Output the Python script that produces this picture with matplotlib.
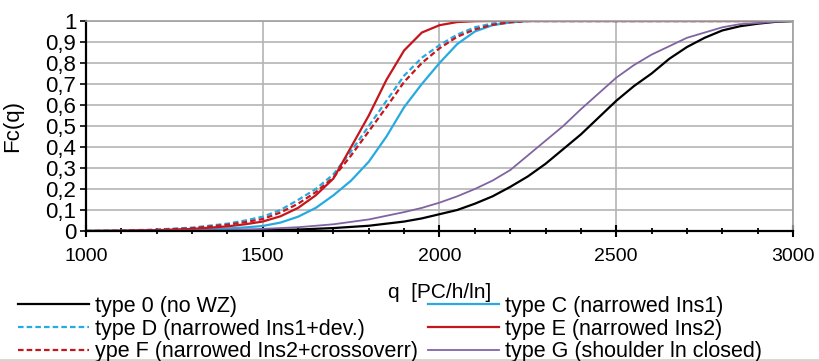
import matplotlib
matplotlib.use('Agg')
import matplotlib.pyplot as plt
from matplotlib.lines import Line2D
from matplotlib.ticker import MultipleLocator

plt.rcParams['font.family'] = ['Liberation Sans', 'DejaVu Sans']

# flow values
q_fast = [1000, 1100, 1200, 1300, 1400, 1450, 1500, 1550, 1600, 1650, 1700, 1750,
          1800, 1850, 1900, 1950, 2000, 2050, 2100, 2150, 2200, 2250, 2300, 3000]
q_slow = [1000, 1200, 1400, 1500, 1600, 1700, 1800, 1900, 1950, 2000, 2050, 2100,
          2150, 2200, 2250, 2300, 2350, 2400, 2450, 2500, 2550, 2600, 2650, 2700,
          2750, 2800, 2850, 2900, 2950, 3000]

type_c = [0, 0.001, 0.002, 0.005, 0.012, 0.017, 0.024, 0.04, 0.068, 0.11, 0.17, 0.24,
          0.33, 0.45, 0.59, 0.70, 0.80, 0.89, 0.95, 0.98, 0.993, 1, 1, 1]
type_d = [0, 0.002, 0.007, 0.016, 0.035, 0.05, 0.068, 0.10, 0.148, 0.20, 0.27, 0.38,
          0.50, 0.62, 0.74, 0.825, 0.885, 0.935, 0.97, 0.988, 0.997, 1, 1, 1]
type_e = [0, 0.001, 0.004, 0.01, 0.022, 0.032, 0.045, 0.07, 0.11, 0.17, 0.25, 0.40,
          0.55, 0.72, 0.86, 0.945, 0.98, 0.995, 0.999, 1, 1, 1, 1, 1]
type_f = [0, 0.001, 0.005, 0.013, 0.03, 0.042, 0.057, 0.088, 0.13, 0.185, 0.255, 0.36,
          0.475, 0.59, 0.71, 0.80, 0.87, 0.925, 0.96, 0.982, 0.994, 1, 1, 1]

type_0 = [0, 0.001, 0.002, 0.004, 0.007, 0.014, 0.025, 0.045, 0.06, 0.08, 0.10, 0.13,
          0.165, 0.21, 0.26, 0.32, 0.39, 0.46, 0.54, 0.62, 0.69, 0.75, 0.82, 0.876,
          0.92, 0.955, 0.975, 0.987, 0.996, 1]
type_g = [0, 0.001, 0.005, 0.01, 0.018, 0.032, 0.055, 0.09, 0.11, 0.135, 0.165, 0.20,
          0.24, 0.29, 0.36, 0.43, 0.50, 0.58, 0.655, 0.73, 0.79, 0.84, 0.88, 0.92,
          0.945, 0.97, 0.985, 0.99, 0.997, 1]

y_ticks = [0, 0.1, 0.2, 0.3, 0.4, 0.5, 0.6, 0.7, 0.8, 0.9, 1]
y_tick_labels = ['0', '0,1', '0,2', '0,3', '0,4', '0,5', '0,6', '0,7', '0,8', '0,9', '1']
x_ticks = [1000, 1500, 2000, 2500, 3000]

BLACK = '#000000'
BLUE = '#27aae1'
RED = '#c4161c'
PURPLE = '#8064a2'
GRID = '#b4b4b4'

fig = plt.figure(figsize=(8.2, 3.61), dpi=100)
ax = fig.add_axes([86 / 820, 1 - 231 / 361, 707 / 820, 210 / 361])

dash = (2.5, 1.4)
l0, = ax.plot(q_slow, type_0, color=BLACK, lw=1.6, label='type 0 (no WZ)')
lc, = ax.plot(q_fast, type_c, color=BLUE, lw=1.6, label='type C (narrowed Ins1)')
ld, = ax.plot(q_fast, type_d, color=BLUE, lw=1.6, dashes=dash,
              label='type D (narrowed Ins1+dev.)')
le, = ax.plot(q_fast, type_e, color=RED, lw=1.6, label='type E (narrowed Ins2)')
lf, = ax.plot(q_fast, type_f, color=RED, lw=1.6, dashes=dash,
              label='ype F (narrowed Ins2+crossoverr)')
lg, = ax.plot(q_slow, type_g, color=PURPLE, lw=1.3, label='type G (shoulder ln closed)')

ax.set_xlim(1000, 3000)
ax.set_ylim(0, 1)
ax.set_xticks(x_ticks)
ax.set_xticklabels([str(x) for x in x_ticks])
ax.xaxis.set_minor_locator(MultipleLocator(100))
ax.set_yticks(y_ticks)
ax.set_yticklabels(y_tick_labels)

ax.grid(True, which='major', color=GRID, lw=1.2)
ax.set_axisbelow(True)

for side in ['top', 'right']:
    ax.spines[side].set_color('#a0a0a0')
    ax.spines[side].set_linewidth(1.2)
for side in ['left', 'bottom']:
    ax.spines[side].set_color(BLACK)
    ax.spines[side].set_linewidth(1.6)

ax.tick_params(axis='x', which='major', direction='inout', length=9, width=1.5,
               labelsize=14, pad=8)
ax.tick_params(axis='x', which='minor', direction='inout', length=4.5, width=1.3)
ax.tick_params(axis='y', which='major', direction='out', length=4, width=1.2,
               labelsize=16, pad=3)

ax.set_xlabel('q  [PC/h/ln]', fontsize=15)
ax.xaxis.set_label_coords(0.5, -0.25)
ax.set_ylabel('Fc(q)', fontsize=16)
ax.yaxis.set_label_coords(-0.089, 0.5)

# legend in two separate columns, rows filled left to right
leg_kw = dict(frameon=False, fontsize=15.5, handlelength=3.3, handletextpad=0.3,
              labelspacing=0.08, borderpad=0, borderaxespad=0, loc='upper left')
fig.legend(handles=[l0, ld, lf], bbox_to_anchor=(18 / 820, 1 - 296 / 361), **leg_kw)
fig.legend(handles=[lc, le, lg], bbox_to_anchor=(428 / 820, 1 - 296 / 361), **leg_kw)

fig.add_artist(Line2D([0, 1], [0.003, 0.003], transform=fig.transFigure,
                      color='#d4d4d4', lw=2))

fig.savefig('out.png', dpi=100)
